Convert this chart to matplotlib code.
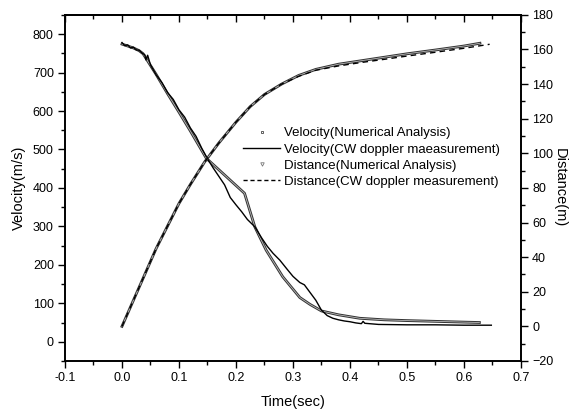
import matplotlib
matplotlib.use('Agg')
from matplotlib import pyplot as plt
from matplotlib.lines import Line2D
from matplotlib.ticker import MultipleLocator

plt.rcParams['font.family'] = ['Liberation Sans', 'DejaVu Sans']

# velocity, numerical analysis
t_vn = [0.0, 0.01, 0.02, 0.03, 0.037, 0.06, 0.08, 0.10, 0.12, 0.148, 0.215,
        0.233, 0.253, 0.282, 0.312, 0.33, 0.35, 0.38, 0.417, 0.46, 0.50, 0.55, 0.60, 0.627]
v_vn = [774, 769, 764, 757, 749, 695, 645, 597, 548, 477, 386,
        299, 238, 169, 115, 97, 80, 70, 61, 57, 55, 53, 51, 50]

# velocity, CW doppler measurement
t_vm = [0.0, 0.005, 0.01, 0.015, 0.02, 0.025, 0.03, 0.035, 0.04, 0.042, 0.045,
        0.05, 0.06, 0.07, 0.08, 0.09, 0.10, 0.11, 0.12, 0.13, 0.14, 0.15, 0.16,
        0.17, 0.18, 0.19, 0.20, 0.21, 0.22, 0.233, 0.245, 0.255, 0.265, 0.277,
        0.29, 0.30, 0.312, 0.32, 0.33, 0.34, 0.35, 0.36, 0.37, 0.38, 0.39, 0.40,
        0.41, 0.42, 0.423, 0.426, 0.45, 0.50, 0.55, 0.60, 0.648]
v_vm = [778, 770, 772, 764, 766, 759, 758, 751, 746, 733, 745,
        720, 694, 674, 648, 630, 603, 584, 556, 534, 503, 476, 452,
        430, 408, 375, 356, 338, 318, 299, 270, 248, 230, 212,
        188, 170, 154, 148, 128, 108, 82, 68, 61, 57, 54, 52,
        49, 47, 53, 48, 45, 44, 44, 43, 43]

# distance, numerical analysis
t_dn = [0.0, 0.02, 0.04, 0.06, 0.08, 0.10, 0.12, 0.145, 0.17, 0.20, 0.225,
        0.25, 0.28, 0.31, 0.34, 0.38, 0.42, 0.46, 0.50, 0.55, 0.60, 0.628]
d_dn = [0, 15, 30, 45, 58, 71, 82, 95, 106, 118, 127,
        134, 140, 145, 148.5, 151.5, 153.5, 155.5, 157.5, 159.7, 162, 163.6]

# distance, CW doppler measurement
t_dm = [0.0, 0.02, 0.04, 0.06, 0.08, 0.10, 0.12, 0.145, 0.17, 0.20, 0.225,
        0.25, 0.28, 0.31, 0.34, 0.38, 0.42, 0.46, 0.50, 0.55, 0.60, 0.645]
d_dm = [0, 15, 30, 45, 58, 71, 82, 95, 106, 118, 127,
        134, 140, 144.5, 148, 150.5, 152.5, 154.3, 156.2, 158.4, 160.7, 163.0]

fig = plt.figure(figsize=(5.72, 4.13), dpi=100)
ax = fig.add_axes([0.1136, 0.126, 0.7972, 0.838])
ax2 = ax.twinx()

# numerical series look like dense hollow markers -> gray band
ax.plot(t_vn, v_vn, color='#333333', lw=2.0)
ax.plot(t_vn, v_vn, color='#bbbbbb', lw=0.6)
ax.plot(t_vm, v_vm, color='black', lw=1.0)

ax2.plot(t_dn, d_dn, color='#333333', lw=2.0)
ax2.plot(t_dn, d_dn, color='#bbbbbb', lw=0.6)
ax2.plot(t_dm, d_dm, color='black', lw=1.0, ls=(0, (4, 3)))

ax.set_xlim(-0.1, 0.7)
ax.set_ylim(-50, 850)
ax2.set_ylim(-20, 180)

ax.xaxis.set_major_locator(MultipleLocator(0.1))
ax.xaxis.set_minor_locator(MultipleLocator(0.05))
ax.yaxis.set_major_locator(MultipleLocator(100))
ax.yaxis.set_minor_locator(MultipleLocator(50))
ax2.yaxis.set_major_locator(MultipleLocator(20))
ax2.yaxis.set_minor_locator(MultipleLocator(10))
ax.xaxis.set_major_formatter(lambda v, p: '%.1f' % v)

for a in (ax, ax2):
    for s in a.spines.values():
        s.set_linewidth(1.2)
ax.tick_params(which='major', direction='out', length=5, width=1.0, labelsize=9, pad=3)
ax.tick_params(which='minor', direction='out', length=3, width=1.0)
ax2.tick_params(which='major', direction='out', length=5, width=1.0, labelsize=9, pad=3)
ax2.tick_params(which='minor', direction='out', length=3, width=1.0)

top = ax.secondary_xaxis('top')
top.xaxis.set_major_locator(MultipleLocator(0.1))
top.xaxis.set_minor_locator(MultipleLocator(0.05))
top.tick_params(which='major', direction='in', length=5, width=1.0, labeltop=False)
top.tick_params(which='minor', direction='in', length=3, width=1.0)
top.spines['top'].set_linewidth(1.2)

ax.set_xlabel('Time(sec)', fontsize=10.5, labelpad=8)
ax.set_ylabel('Velocity(m/s)', fontsize=10.5, labelpad=5)
ax2.set_ylabel('Distance(m)', fontsize=10.5, rotation=-90, labelpad=10)

handles = [
    Line2D([], [], ls='none', marker='s', ms=2, mfc='white', mec='#444444', mew=0.6),
    Line2D([], [], color='black', lw=1.0),
    Line2D([], [], ls='none', marker='v', ms=2.5, mfc='white', mec='#777777', mew=0.6),
    Line2D([], [], color='black', lw=1.0, ls=(0, (3, 2))),
]
labels = ['Velocity(Numerical Analysis)', 'Velocity(CW doppler maeasurement)',
          'Distance(Numerical Analysis)', 'Distance(CW doppler measurement)']
fig.legend(handles, labels, loc='upper left', bbox_to_anchor=(0.414, 0.708),
           frameon=False, fontsize=9.5, handlelength=2.8, handletextpad=0.25,
           labelspacing=0.3, borderpad=0)

fig.savefig('out.png', dpi=100)
